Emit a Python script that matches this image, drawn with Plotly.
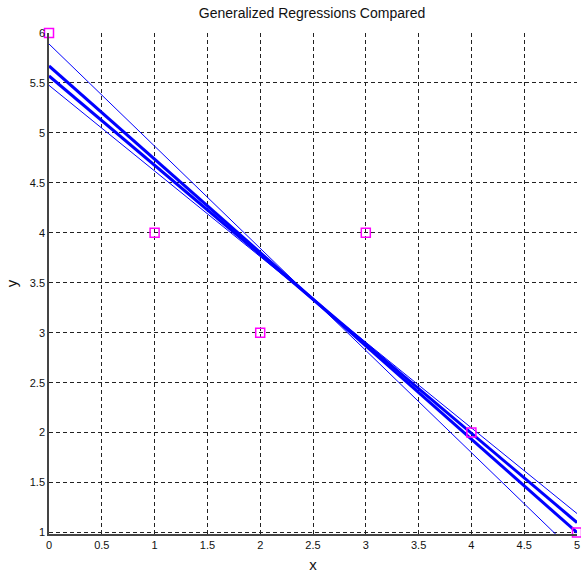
import plotly.graph_objects as go

# Data points
x_pts = [0, 1, 2, 3, 4, 5]
y_pts = [6, 4, 3, 4, 2, 1]

# Regression lines: value at x=0 and at x=5
line_x = [0, 5]
line_start = [5.89, 5.67, 5.57, 5.476]
line_end = [0.777, 1.00, 1.10, 1.19]
line_widths = [1, 3, 3, 1]

fig = go.Figure()
for y0, y1, w in zip(line_start, line_end, line_widths):
    fig.add_trace(go.Scatter(x=line_x, y=[y0, y1], mode="lines",
                             line=dict(color="#0000FF", width=w),
                             showlegend=False, hoverinfo="skip"))

fig.add_trace(go.Scatter(x=x_pts, y=y_pts, mode="markers",
                         marker=dict(symbol="square-open", size=9, color="#FF00FF",
                                     line=dict(width=1.5, color="#FF00FF")),
                         cliponaxis=False, showlegend=False))

axis_common = dict(
    showgrid=True, gridcolor="#222222", griddash="4px,3px", gridwidth=1,
    zeroline=False, showline=True, linecolor="#444444", linewidth=1.5,
    ticks="inside", ticklen=4, tickcolor="#222222", mirror=False,
    tickfont=dict(family="Liberation Sans, Arial", size=11, color="#111111"),
)

fig.update_layout(
    width=581, height=573,
    margin=dict(l=49, r=4, t=33, b=39, autoexpand=False),
    plot_bgcolor="white", paper_bgcolor="white",
    title=dict(text="Generalized Regressions Compared", x=0.537, xanchor="center",
               y=0.977, yanchor="middle",
               font=dict(family="Liberation Sans, Arial", size=14, color="#111111")),
    xaxis=dict(range=[0, 5], dtick=0.5, tick0=0,
               title=dict(text="x", font=dict(family="Liberation Sans, Arial", size=15, color="#111111"), standoff=12),
               **axis_common),
    yaxis=dict(range=[0.985, 6], dtick=0.5, tick0=1,
               title=dict(text="y", font=dict(family="Liberation Sans, Arial", size=15, color="#111111"), standoff=9),
               **axis_common),
)

fig.write_html("out.html", config={"displayModeBar": False},
               post_script="document.body.style.margin='0px';document.body.style.overflow='hidden';")
